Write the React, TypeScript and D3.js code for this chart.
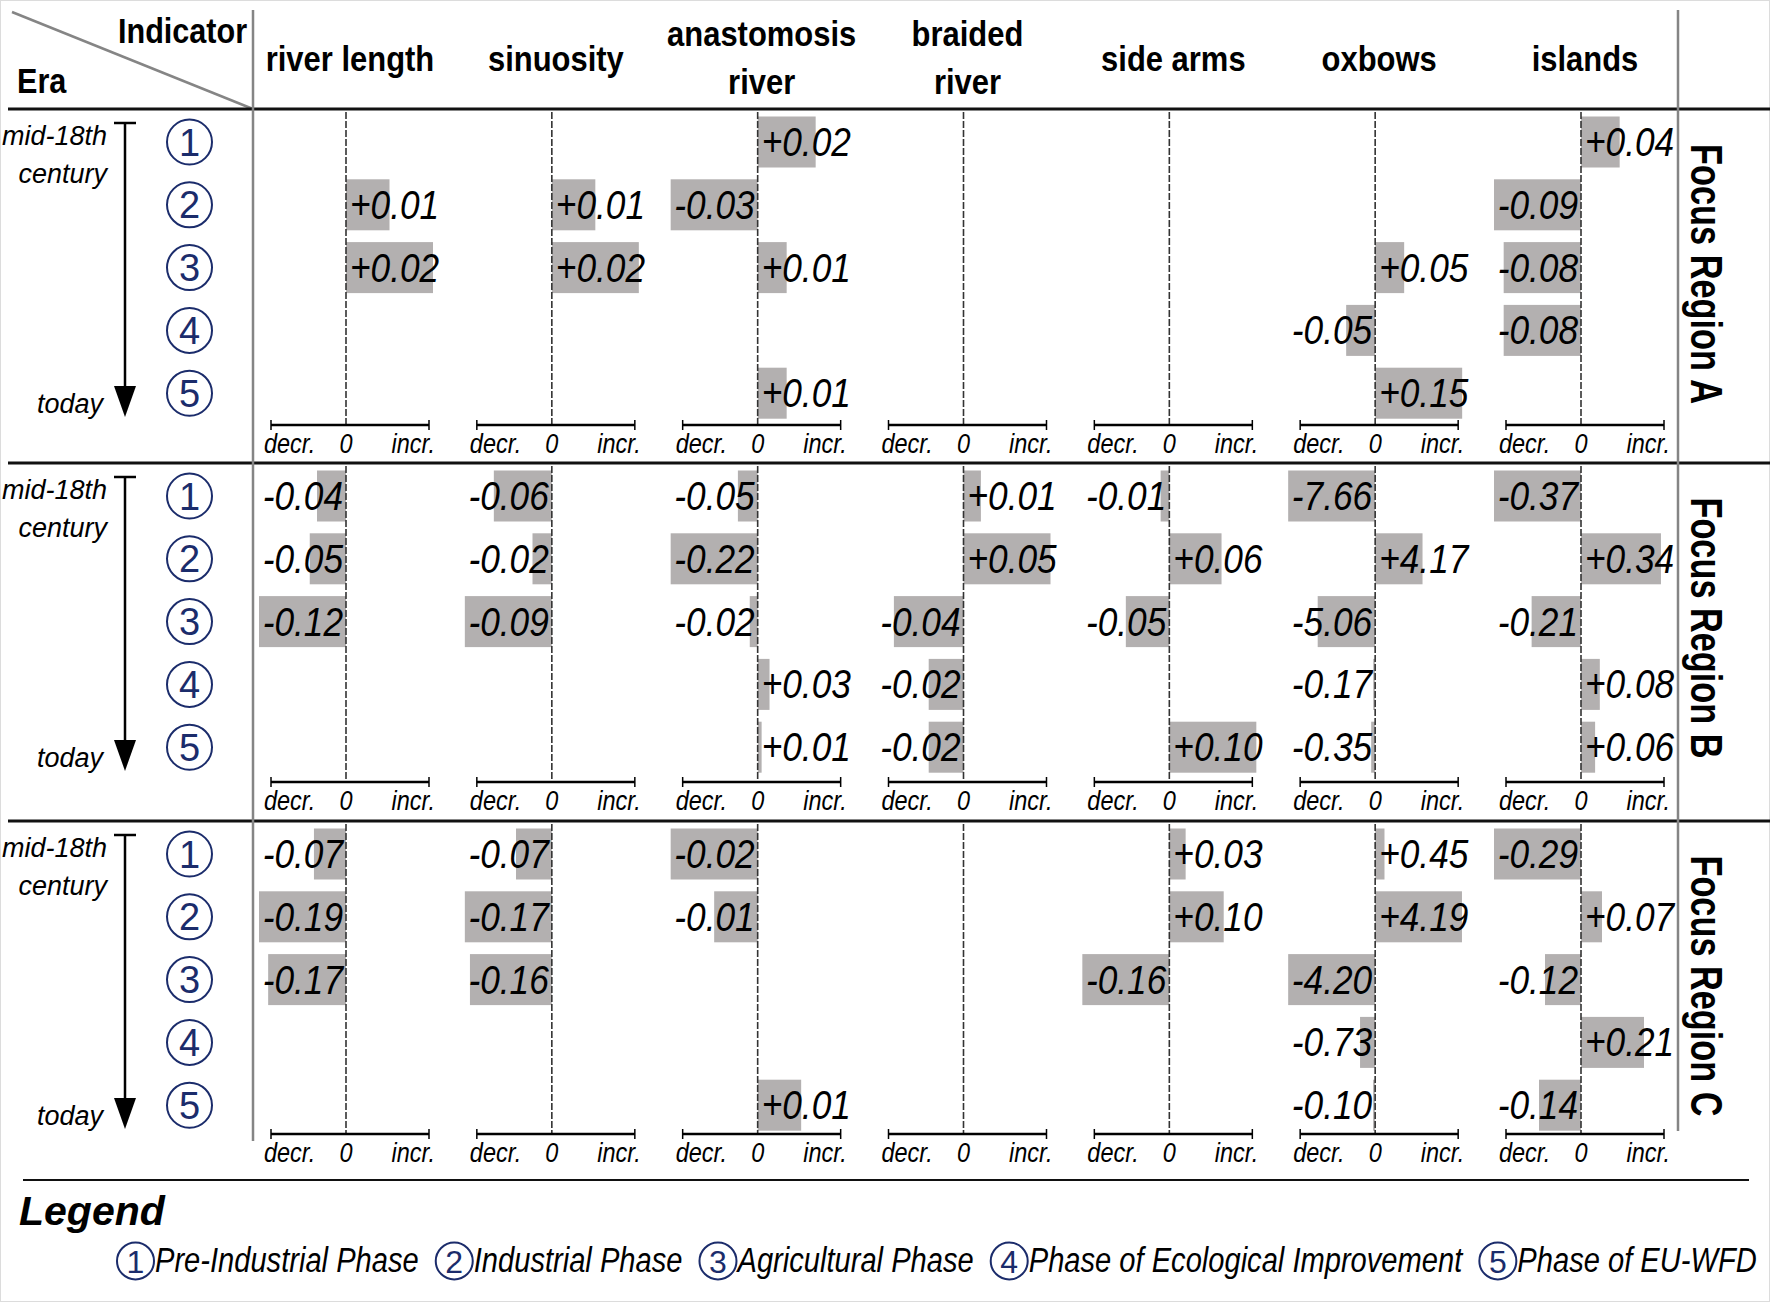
import React from 'react';
import * as d3 from 'd3';

const indicators = ['river length', 'sinuosity', 'anastomosis river', 'braided river', 'side arms', 'oxbows', 'islands'];
const headerLines = [['river length'], ['sinuosity'], ['anastomosis', 'river'], ['braided', 'river'], ['side arms'], ['oxbows'], ['islands']];
const phases = [1, 2, 3, 4, 5];
const phaseNames = ['Pre-Industrial Phase', 'Industrial Phase', 'Agricultural Phase', 'Phase of Ecological Improvement', 'Phase of EU-WFD'];
const regionNames = ['Focus Region A', 'Focus Region B', 'Focus Region C'];

// one list per indicator, values for phases 1..5 (null = nothing shown)
const regionA = [
  [null, 0.01, 0.02, null, null],
  [null, 0.01, 0.02, null, null],
  [0.02, -0.03, 0.01, null, 0.01],
  [null, null, null, null, null],
  [null, null, null, null, null],
  [null, null, 0.05, -0.05, 0.15],
  [0.04, -0.09, -0.08, -0.08, null],
];
const regionB = [
  [-0.04, -0.05, -0.12, null, null],
  [-0.06, -0.02, -0.09, null, null],
  [-0.05, -0.22, -0.02, 0.03, 0.01],
  [0.01, 0.05, -0.04, -0.02, -0.02],
  [-0.01, 0.06, -0.05, null, 0.10],
  [-7.66, 4.17, -5.06, -0.17, -0.35],
  [-0.37, 0.34, -0.21, 0.08, 0.06],
];
const regionC = [
  [-0.07, -0.19, -0.17, null, null],
  [-0.07, -0.17, -0.16, null, null],
  [-0.02, -0.01, null, null, 0.01],
  [null, null, null, null, null],
  [0.03, 0.10, -0.16, null, null],
  [0.45, 4.19, -4.20, -0.73, -0.10],
  [-0.29, 0.07, -0.12, 0.21, -0.14],
];
const regions = [regionA, regionB, regionC];

const W = 1770;
const H = 1302;
const regionTop = [109, 463, 821];
const axisYs = [425, 782, 1134];
const SANS = '"Liberation Sans", Arial, sans-serif';
const NAVY = '#1b2c6b';
const BAR = '#b3b0b0';
const GRAY = '#858585';
const maxBar = 87;
const barH = 51;

const fmt = (v) => `${v > 0 ? '+' : '-'}${Math.abs(v).toFixed(2)}`;

const measure = (() => {
  let ctx = null;
  return (txt, font) => {
    if (!ctx) ctx = document.createElement('canvas').getContext('2d');
    ctx.font = font;
    return ctx.measureText(txt).width;
  };
})();

// condensed text: the narrow face is not installed, so squeeze Liberation Sans
const NText = ({ x, y, sx = 0.86, anchor = 'start', size, bold = false, italic = false, children }) => (
  <text transform={`translate(${x},${y}) scale(${sx},1)`} textAnchor={anchor} fontFamily={SANS}
    fontSize={size} fontWeight={bold ? 'bold' : 'normal'} fontStyle={italic ? 'italic' : 'normal'}>
    {children}
  </text>
);

const Circled = ({ cx, cy, r, n, size }) => (
  <g>
    <circle cx={cx} cy={cy} r={r} fill="#fff" stroke={NAVY} strokeWidth={2} />
    <text x={cx} y={cy + size * 0.36} textAnchor="middle" fontFamily={SANS} fontSize={size} fill={NAVY}>{n}</text>
  </g>
);

export default function App() {
  const xZero = d3.scalePoint().domain(indicators).range([346, 1581]);

  const legendSx = 0.82;
  const legendFont = `italic 35.5px ${SANS}`;
  let lx = 117;
  const legendItems = phaseNames.map((name, i) => {
    const item = { cx: lx + 18.5, tx: lx + 38, name, n: phases[i] };
    lx = lx + 38 + measure(name, legendFont) * legendSx + 17;
    return item;
  });

  return (
    <div style={{ position: 'absolute', left: 0, top: 0 }}>
      <svg width={W} height={H} style={{ display: 'block', background: '#fff' }}>
        <rect x={0.5} y={0.5} width={W - 1} height={H - 1} fill="#fff" stroke="#dcdcdc" />

        {/* header */}
        <line x1={12} y1={12} x2={253} y2={109} stroke={GRAY} strokeWidth={2.5} />
        <NText x={118} y={43} size={36} bold sx={0.85}>Indicator</NText>
        <NText x={17} y={93} size={36} bold sx={0.85}>Era</NText>
        {headerLines.map((lines, i) => lines.map((l, j) => (
          <NText key={l + i} x={xZero(indicators[i]) + 4} y={lines.length === 1 ? 71 : 46 + j * 48}
            anchor="middle" size={36} bold sx={0.86}>{l}</NText>
        )))}

        {regions.map((data, r) => {
          const top = regionTop[r];
          const axisY = axisYs[r];
          const yRow = d3.scalePoint().domain(phases).range([top + 33, top + 33 + 4 * 62.8]);
          return (
            <g key={regionNames[r]}>
              {/* era arrow */}
              <line x1={114} x2={136} y1={top + 14} y2={top + 14} stroke="#000" strokeWidth={2.5} />
              <line x1={125} x2={125} y1={top + 14} y2={top + 285} stroke="#000" strokeWidth={2.5} />
              <path d={`M114,${top + 277}L136,${top + 277}L125,${top + 308}Z`} fill="#000" />
              <text x={107} y={top + 36} textAnchor="end" fontFamily={SANS} fontStyle="italic" fontSize={27}>mid-18th</text>
              <text x={107} y={top + 74} textAnchor="end" fontFamily={SANS} fontStyle="italic" fontSize={27}>century</text>
              <text x={103} y={top + 304} textAnchor="end" fontFamily={SANS} fontStyle="italic" fontSize={27}>today</text>
              {phases.map((p) => (
                <Circled key={p} cx={189.5} cy={yRow(p)} r={22.5} n={p} size={38} />
              ))}

              {data.map((vals, c) => {
                const x0 = xZero(indicators[c]);
                const maxAbs = d3.max(vals, (v) => (v == null ? 0 : Math.abs(v))) || 1;
                const w = d3.scaleLinear().domain([0, maxAbs]).range([0, maxBar]);
                return (
                  <g key={indicators[c]}>
                    {vals.map((v, k) => (v == null ? null : (
                      <rect key={k} x={v > 0 ? x0 : x0 - w(Math.abs(v))} y={yRow(phases[k]) - barH / 2}
                        width={w(Math.abs(v))} height={barH} fill={BAR} />
                    )))}
                    <line x1={x0} x2={x0} y1={top + 3} y2={axisY} stroke="#333" strokeWidth={1.6} strokeDasharray="7,2" />
                    {vals.map((v, k) => (v == null ? null : (
                      <NText key={`t${k}`} x={v > 0 ? x0 + 4 : x0 - 3} y={yRow(phases[k]) + 14}
                        anchor={v > 0 ? 'start' : 'end'} italic size={41} sx={0.86}>
                        {fmt(v)}
                      </NText>
                    )))}
                    {/* decr / incr axis */}
                    <line x1={x0 - 75} x2={x0 + 83} y1={axisY} y2={axisY} stroke="#000" strokeWidth={2.6} />
                    <line x1={x0 - 75} x2={x0 - 75} y1={axisY - 5} y2={axisY + 5} stroke="#000" strokeWidth={1.5} />
                    <line x1={x0 + 83} x2={x0 + 83} y1={axisY - 5} y2={axisY + 5} stroke="#000" strokeWidth={1.5} />
                    <NText x={x0 - 82} y={axisY + 28} italic size={27} sx={0.87}>decr.</NText>
                    <NText x={x0} y={axisY + 28} anchor="middle" italic size={27} sx={0.87}>0</NText>
                    <NText x={x0 + 89} y={axisY + 28} anchor="end" italic size={27} sx={0.87}>incr.</NText>
                  </g>
                );
              })}

              <text transform={`translate(1707,${top + 165}) rotate(90) scale(0.78,1)`} textAnchor="middle" dominantBaseline="central"
                fontFamily={SANS} fontWeight="bold" fontSize={44}>
                {regionNames[r]}
              </text>
            </g>
          );
        })}

        {/* grid rules */}
        {regionTop.map((y) => (
          <line key={y} x1={8} x2={W} y1={y} y2={y} stroke="#111" strokeWidth={3} />
        ))}
        <line x1={253} x2={253} y1={10} y2={1141} stroke={GRAY} strokeWidth={2.5} />
        <line x1={1678} x2={1678} y1={10} y2={1131} stroke={GRAY} strokeWidth={2.5} />
        <line x1={23} x2={1749} y1={1180} y2={1180} stroke="#111" strokeWidth={2} />

        {/* legend */}
        <text x={19} y={1225} fontFamily={SANS} fontWeight="bold" fontStyle="italic" fontSize={41}>Legend</text>
        {legendItems.map((it) => (
          <g key={it.name}>
            <Circled cx={it.cx} cy={1261} r={18.5} n={it.n} size={32} />
            <NText x={it.tx} y={1272} italic size={35.5} sx={legendSx}>{it.name}</NText>
          </g>
        ))}
      </svg>
    </div>
  );
}
